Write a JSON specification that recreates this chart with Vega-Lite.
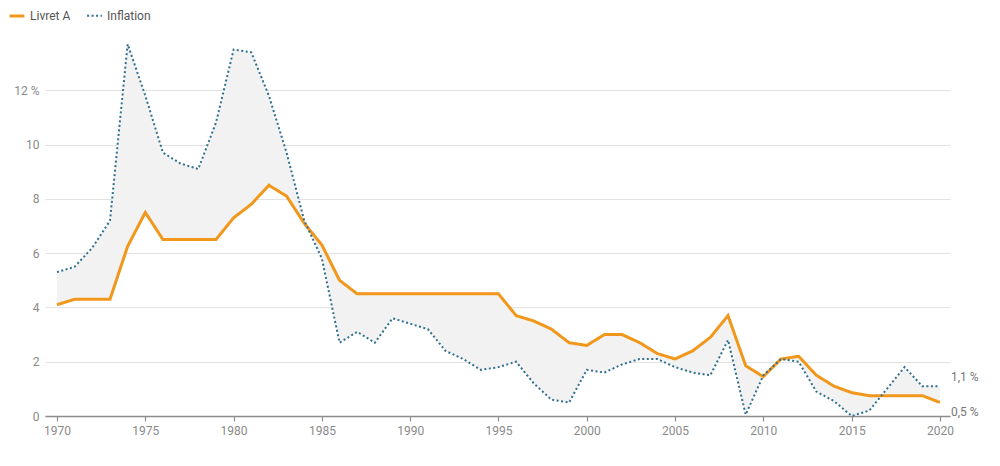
{
  "$schema": "https://vega.github.io/schema/vega-lite/v6.json",
  "width": 905,
  "height": 380,
  "autosize": {"type": "none"},
  "padding": {"left": 45, "top": 36, "right": 50, "bottom": 50},
  "background": "white",
  "config": {
    "view": {"stroke": null},
    "font": "Roboto",
    "axis": {"labelFont": "Roboto", "labelColor": "#8a8a8a", "labelFontSize": 12}
  },
  "data": {
    "values": [
      {"year": 1970, "Livret A": 4.1, "Inflation": 5.3},
      {"year": 1971, "Livret A": 4.3, "Inflation": 5.5},
      {"year": 1972, "Livret A": 4.3, "Inflation": 6.2},
      {"year": 1973, "Livret A": 4.3, "Inflation": 7.2},
      {"year": 1974, "Livret A": 6.25, "Inflation": 13.7},
      {"year": 1975, "Livret A": 7.5, "Inflation": 11.8},
      {"year": 1976, "Livret A": 6.5, "Inflation": 9.7},
      {"year": 1977, "Livret A": 6.5, "Inflation": 9.3},
      {"year": 1978, "Livret A": 6.5, "Inflation": 9.1},
      {"year": 1979, "Livret A": 6.5, "Inflation": 10.8},
      {"year": 1980, "Livret A": 7.3, "Inflation": 13.5},
      {"year": 1981, "Livret A": 7.8, "Inflation": 13.4},
      {"year": 1982, "Livret A": 8.5, "Inflation": 11.8},
      {"year": 1983, "Livret A": 8.1, "Inflation": 9.7},
      {"year": 1984, "Livret A": 7.1, "Inflation": 7.2},
      {"year": 1985, "Livret A": 6.3, "Inflation": 5.8},
      {"year": 1986, "Livret A": 5.0, "Inflation": 2.7},
      {"year": 1987, "Livret A": 4.5, "Inflation": 3.1},
      {"year": 1988, "Livret A": 4.5, "Inflation": 2.7},
      {"year": 1989, "Livret A": 4.5, "Inflation": 3.6},
      {"year": 1990, "Livret A": 4.5, "Inflation": 3.4},
      {"year": 1991, "Livret A": 4.5, "Inflation": 3.2},
      {"year": 1992, "Livret A": 4.5, "Inflation": 2.4},
      {"year": 1993, "Livret A": 4.5, "Inflation": 2.1},
      {"year": 1994, "Livret A": 4.5, "Inflation": 1.7},
      {"year": 1995, "Livret A": 4.5, "Inflation": 1.8},
      {"year": 1996, "Livret A": 3.7, "Inflation": 2.0},
      {"year": 1997, "Livret A": 3.5, "Inflation": 1.2},
      {"year": 1998, "Livret A": 3.2, "Inflation": 0.6},
      {"year": 1999, "Livret A": 2.7, "Inflation": 0.5},
      {"year": 2000, "Livret A": 2.6, "Inflation": 1.7},
      {"year": 2001, "Livret A": 3.0, "Inflation": 1.6},
      {"year": 2002, "Livret A": 3.0, "Inflation": 1.9},
      {"year": 2003, "Livret A": 2.7, "Inflation": 2.1},
      {"year": 2004, "Livret A": 2.3, "Inflation": 2.1},
      {"year": 2005, "Livret A": 2.1, "Inflation": 1.8},
      {"year": 2006, "Livret A": 2.4, "Inflation": 1.6},
      {"year": 2007, "Livret A": 2.9, "Inflation": 1.5},
      {"year": 2008, "Livret A": 3.7, "Inflation": 2.8},
      {"year": 2009, "Livret A": 1.85, "Inflation": 0.05},
      {"year": 2010, "Livret A": 1.45, "Inflation": 1.5},
      {"year": 2011, "Livret A": 2.1, "Inflation": 2.1},
      {"year": 2012, "Livret A": 2.2, "Inflation": 2.0},
      {"year": 2013, "Livret A": 1.5, "Inflation": 0.9},
      {"year": 2014, "Livret A": 1.1, "Inflation": 0.55},
      {"year": 2015, "Livret A": 0.86, "Inflation": 0.0},
      {"year": 2016, "Livret A": 0.75, "Inflation": 0.2},
      {"year": 2017, "Livret A": 0.75, "Inflation": 1.0},
      {"year": 2018, "Livret A": 0.75, "Inflation": 1.8},
      {"year": 2019, "Livret A": 0.75, "Inflation": 1.1},
      {"year": 2020, "Livret A": 0.5, "Inflation": 1.1}
    ]
  },
  "encoding": {
    "x": {
      "field": "year",
      "type": "quantitative",
      "scale": {"domain": [1969.32, 2020.57], "nice": false, "zero": false},
      "axis": {
        "title": null,
        "values": [1970, 1975, 1980, 1985, 1990, 1995, 2000, 2005, 2010, 2015, 2020],
        "format": "d",
        "grid": false,
        "domainColor": "#8c8c8c",
        "domainWidth": 1.5,
        "tickColor": "#8c8c8c",
        "tickSize": 5,
        "tickWidth": 1.2,
        "labelPadding": 4
      }
    }
  },
  "layer": [
    {
      "mark": {"type": "area", "color": "#f2f2f2", "opacity": 1},
      "encoding": {
        "y": {
          "field": "Livret A",
          "type": "quantitative",
          "scale": {"domain": [0, 14], "nice": false},
          "axis": {
            "title": null,
            "values": [0, 2, 4, 6, 8, 10, 12],
            "labelExpr": "datum.value == 12 ? '12 %' : datum.label",
            "domain": false,
            "ticks": false,
            "gridColor": "#e2e2e2",
            "gridWidth": 1,
            "labelPadding": 6
          }
        },
        "y2": {"field": "Inflation"}
      }
    },
    {
      "transform": [{"fold": ["Livret A", "Inflation"], "as": ["series", "value"]}],
      "mark": {"type": "line", "strokeCap": "butt"},
      "encoding": {
        "y": {"field": "value", "type": "quantitative"},
        "color": {
          "field": "series",
          "type": "nominal",
          "scale": {"domain": ["Livret A", "Inflation"], "range": ["#f0971c", "#2f6f8f"]},
          "legend": {
            "title": null,
            "orient": "none",
            "legendX": -37,
            "legendY": -29,
            "direction": "horizontal",
            "symbolType": "stroke",
            "symbolStrokeWidth": 2.5,
            "symbolSize": 220,
            "labelFont": "Roboto",
            "labelFontSize": 12,
            "labelColor": "#555555",
            "columnPadding": 12,
            "labelOffset": 4
          }
        },
        "strokeDash": {
          "field": "series",
          "type": "nominal",
          "scale": {"domain": ["Livret A", "Inflation"], "range": [[1, 0], [2, 2.5]]},
          "legend": {
            "title": null,
            "orient": "none",
            "legendX": -37,
            "legendY": -29,
            "direction": "horizontal",
            "symbolType": "stroke",
            "symbolStrokeWidth": 2.5,
            "symbolSize": 220,
            "labelFont": "Roboto",
            "labelFontSize": 12,
            "labelColor": "#555555",
            "columnPadding": 12,
            "labelOffset": 4
          }
        },
        "strokeWidth": {
          "field": "series",
          "type": "nominal",
          "scale": {"domain": ["Livret A", "Inflation"], "range": [3, 2]},
          "legend": null
        }
      }
    },
    {
      "transform": [{"filter": "datum.year == 2020"}],
      "mark": {"type": "text", "align": "left", "baseline": "middle", "dx": 11, "dy": -9, "fontSize": 12, "color": "#777777", "font": "Roboto"},
      "encoding": {
        "y": {"field": "Inflation", "type": "quantitative"},
        "text": {"value": "1,1 %"}
      }
    },
    {
      "transform": [{"filter": "datum.year == 2020"}],
      "mark": {"type": "text", "align": "left", "baseline": "middle", "dx": 11, "dy": 10, "fontSize": 12, "color": "#777777", "font": "Roboto"},
      "encoding": {
        "y": {"field": "Livret A", "type": "quantitative"},
        "text": {"value": "0,5 %"}
      }
    }
  ]
}
